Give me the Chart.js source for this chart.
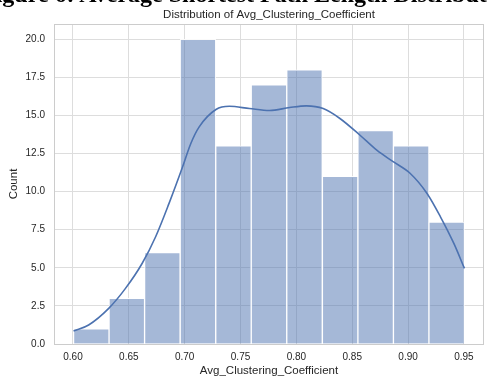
<!DOCTYPE html>
<html>
<head>
<meta charset="utf-8">
<script src="https://cdn.jsdelivr.net/npm/chart.js@4/dist/chart.umd.min.js"></script>
<style>
html,body{margin:0;padding:0;background:#fff;}
#wrap{position:relative;width:487px;height:378px;overflow:hidden;}
#head{position:absolute;left:-19px;top:-18px;font:bold 24px "Liberation Serif",serif;line-height:24px;white-space:nowrap;color:#000;}
canvas{position:absolute;left:0;top:0;}
</style>
</head>
<body>
<div id="wrap">
<canvas id="myChart" width="487" height="378"></canvas>
<div id="head">Figure 6: Average Shortest Path Length Distribution</div>
</div>
<script>
// histogram bins (left edge of each bin) and counts
var binLeft = [0.6005, 0.6323, 0.6641, 0.6960, 0.7278, 0.7596, 0.7914, 0.8233, 0.8551, 0.8869, 0.9187];
var binWidth = 0.0318;
var counts = [1, 3, 6, 20, 13, 17, 18, 11, 14, 13, 8];

// kde curve
var kdeX = [0.6005, 0.614, 0.632, 0.647, 0.662, 0.674, 0.686, 0.698, 0.7055, 0.713, 0.728, 0.740, 0.758, 0.776, 0.794, 0.809, 0.824, 0.839, 0.857, 0.872, 0.887, 0.902, 0.917, 0.929, 0.941, 0.9505];
var kdeY = [0.85, 1.25, 2.34, 3.65, 5.3, 7.04, 9.23, 11.6, 13.16, 14.25, 15.39, 15.6, 15.45, 15.32, 15.52, 15.63, 15.45, 14.8, 13.7, 12.72, 11.95, 11.19, 9.88, 8.35, 6.6, 4.96];

var xTicks = [0.60, 0.65, 0.70, 0.75, 0.80, 0.85, 0.90, 0.95];
var yTicks = [0, 2.5, 5, 7.5, 10, 12.5, 15, 17.5, 20];

var barData = [];
for (let i = 0; i < counts.length; i++) {
    barData.push({x: binLeft[i] + binWidth / 2, y: counts[i]});
}
var kdeData = [];
for (let i = 0; i < kdeX.length; i++) {
    kdeData.push({x: kdeX[i], y: kdeY[i]});
}

var textColor = '#262626';
var gridColor = '#dddddd';
var sans = '"Liberation Sans", Arial, sans-serif';

//box around the plot area like seaborn spines
var frame = {
    id: 'frame',
    afterDatasetsDraw: function(chart) {
        var a = chart.chartArea, c = chart.ctx;
        c.save();
        c.strokeStyle = '#cccccc';
        c.lineWidth = 1;
        c.strokeRect(Math.round(a.left) + 0.5, Math.round(a.top) + 0.5, Math.round(a.right - a.left) - 1, Math.round(a.bottom - a.top));
        c.restore();
    }
};

const ctx = document.getElementById('myChart').getContext('2d');
const myChart = new Chart(ctx, {
    type: 'bar',
    data: {
        datasets: [{
            type: 'line',
            data: kdeData,
            borderColor: '#4c72b0',
            borderWidth: 1.6,
            pointRadius: 0,
            cubicInterpolationMode: 'monotone',
            fill: false
        },
        {
            type: 'bar',
            data: barData,
            backgroundColor: 'rgba(76, 114, 176, 0.5)',
            borderColor: 'rgba(255, 255, 255, 0.85)',
            borderWidth: 1,
            barPercentage: 1,
            categoryPercentage: 1
        }]
    },
    options: {
        responsive: false,
        animation: false,
        layout: {padding: {left: 0, right: 3, top: 0, bottom: 0}},
        plugins: {
            legend: {display: false},
            tooltip: {enabled: false},
            title: {
                display: true,
                fullSize: false,
                text: 'Distribution of Avg_Clustering_Coefficient',
                color: textColor,
                font: {family: sans, size: 11.5, weight: 'normal'},
                padding: {top: 7.5, bottom: 2.7}
            }
        },
        scales: {
            x: {
                type: 'linear',
                min: 0.583,
                max: 0.968,
                offset: false,
                afterFit: function(s) { s.height = 34; },
                afterBuildTicks: function(s) { s.ticks = xTicks.map(v => ({value: v})); },
                grid: {color: gridColor, drawTicks: false, offset: false},
                border: {display: false},
                ticks: {
                    color: textColor,
                    padding: 7,
                    maxRotation: 0,
                    font: {family: sans, size: 10},
                    callback: v => v.toFixed(2)
                },
                title: {
                    display: true,
                    text: 'Avg_Clustering_Coefficient',
                    color: textColor,
                    padding: {top: 0, bottom: 0},
                    font: {family: sans, size: 11.5}
                }
            },
            y: {
                min: 0,
                max: 21,
                afterFit: function(s) { s.width = 54; },
                afterBuildTicks: function(s) { s.ticks = yTicks.map(v => ({value: v})); },
                grid: {color: gridColor, drawTicks: false},
                border: {display: false},
                ticks: {
                    color: textColor,
                    padding: 9,
                    font: {family: sans, size: 10},
                    callback: v => v.toFixed(1)
                },
                title: {
                    display: true,
                    text: 'Count',
                    color: textColor,
                    padding: {top: 7, bottom: 0},
                    font: {family: sans, size: 11.5}
                }
            }
        }
    },
    plugins: [frame]
});
</script>
</body>
</html>
